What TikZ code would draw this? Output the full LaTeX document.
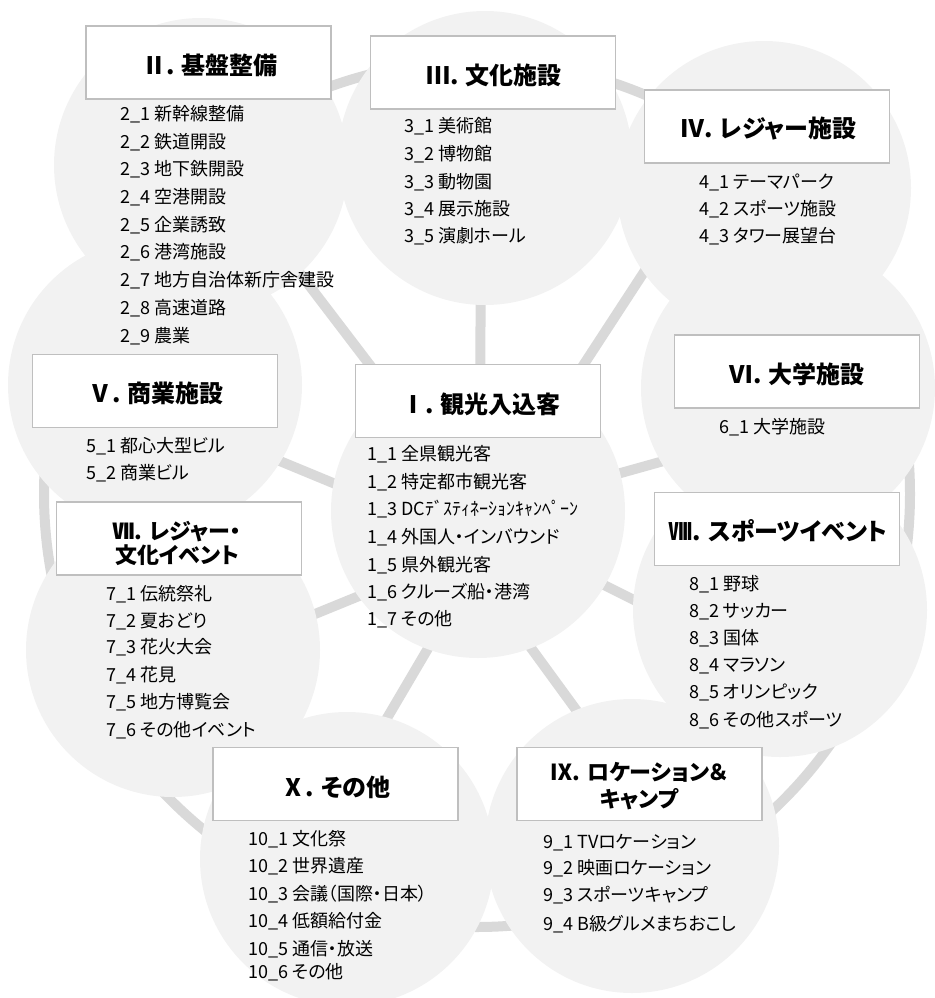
\documentclass[tikz,border=0pt]{standalone}
\usepackage{fontspec}
\newfontfamily\jp[RawFeature=+palt]{Noto Sans CJK JP}
\IfFontExistsTF{Noto Sans CJK JP Black}{\newfontfamily\jpb[RawFeature=+palt]{Noto Sans CJK JP Black}}{%
  \IfFontExistsTF{Noto Sans CJK JP Bold}{\newfontfamily\jpb[RawFeature=+palt]{Noto Sans CJK JP Bold}}{\newfontfamily\jpb[FakeBold=2,RawFeature=+palt]{Noto Sans CJK JP}}}
\definecolor{circ}{HTML}{F2F2F2}
\definecolor{ringc}{HTML}{D9D9D9}
\definecolor{boxc}{HTML}{BFBFBF}
\tikzset{
  bubble/.style={circle, fill=circ, draw=none, minimum size=294pt, inner sep=0pt},
  tbox/.style={draw=boxc, line width=1.2pt, fill=white, inner sep=0pt, minimum width=245pt, minimum height=73pt},
  ttl/.style={inner sep=0pt, align=center, font=\jpb\fontsize{24}{26}\selectfont},
  ttltwo/.style={ttl, font=\jpb\fontsize{22}{24}\selectfont},
  item/.style={font=\jp\fontsize{18}{20}\selectfont, anchor=west, inner sep=0pt, text height=13.5pt, text depth=3pt},
  link/.style={draw=ringc, line width=10pt},
}
\begin{document}
\begin{tikzpicture}[x=1pt,y=-1pt]
\useasboundingbox (0,0) rectangle (934,998);
% ring
\coordinate (hub) at (477,494);
\draw[link] (hub) circle[radius=433pt];
% spokes
\coordinate (s2a) at (450,470); \coordinate (s2b) at (244,200);
\coordinate (s3a) at (480,450); \coordinate (s3b) at (481,200);
\coordinate (s4a) at (528,450); \coordinate (s4b) at (691,200);
\coordinate (s5a) at (420,519); \coordinate (s5b) at (200,428);
\coordinate (s6a) at (560,490); \coordinate (s6b) at (760,434);
\coordinate (s7a) at (430,567); \coordinate (s7b) at (200,661);
\coordinate (s8a) at (540,553); \coordinate (s8b) at (720,643);
\coordinate (s9a) at (480,578); \coordinate (s9b) at (620,770);
\coordinate (s10a) at (470,577); \coordinate (s10b) at (350,781);
\foreach \k in {2,...,10} \draw[link] (s\k a) -- (s\k b);
% circles
\node[bubble] (cII) at (201,165) {};
\node[bubble] (cIII) at (485,158) {};
\node[bubble] (cIV) at (764,188) {};
\node[bubble] (cVI) at (788,388) {};
\node[bubble] (cVIII) at (780,610) {};
\node[bubble] (cIX) at (632,846) {};
\node[bubble] (cX) at (347,859) {};
\node[bubble] (cVII) at (173,650) {};
\node[bubble] (cV) at (155,385) {};
\node[bubble] (cI) at (478,511) {};
% title boxes
\node[tbox] (bII) at (208.5,62.5) {};
\node[tbox] (bIII) at (493,72.5) {};
\node[tbox] (bIV) at (767,126.5) {};
\node[tbox] (bV) at (155,391) {};
\node[tbox] (bI) at (478,401) {};
\node[tbox] (bVI) at (797,371.5) {};
\node[tbox] (bVII) at (179,538.5) {};
\node[tbox] (bVIII) at (777,529) {};
\node[tbox] (bX) at (335.5,784) {};
\node[tbox] (bIX) at (639.5,784) {};
% titles
\node[ttl] (tII) at (210,65) {Ⅱ. 基盤整備};
\node[ttl] (tIII) at (494,75) {Ⅲ. 文化施設};
\node[ttl] (tIV) at (768,129) {Ⅳ. レジャー施設};
\node[ttl] (tV) at (156,393) {Ⅴ. 商業施設};
\node[ttl] (tI) at (481,404) {Ⅰ. 観光入込客};
\node[ttl] (tVI) at (797,374) {Ⅵ. 大学施設};
\node[ttltwo] (tVII) at (177,543) {Ⅶ. レジャー・\\文化イベント};
\node[ttl] (tVIII) at (778,531) {Ⅷ. スポーツイベント};
\node[ttl] (tX) at (336,787) {Ⅹ. その他};
\node[ttltwo, font=\jpb\fontsize{22}{27}\selectfont] (tIX) at (639,786) {Ⅸ. ロケーション＆\\キャンプ};
% items
\foreach \yy/\t [count=\i] in {115/2\_1 新幹線整備, 143/2\_2 鉄道開設, 170/2\_3 地下鉄開設, 198/2\_4 空港開設, 226/2\_5 企業誘致, 253/2\_6 港湾施設, 281/2\_7 地方自治体新庁舎建設, 309/2\_8 高速道路, 337/2\_9 農業}
  \node[item] (iII-\i) at (120,\yy) {\t};
\foreach \yy/\t [count=\i] in {127/3\_1 美術館, 155/3\_2 博物館, 183/3\_3 動物園, 210/3\_4 展示施設, 237/3\_5 演劇ホール}
  \node[item] (iIII-\i) at (404,\yy) {\t};
\foreach \yy/\t [count=\i] in {183/4\_1 テーマパーク, 210/4\_2 スポーツ施設, 237/4\_3 タワー展望台}
  \node[item] (iIV-\i) at (699,\yy) {\t};
\foreach \yy/\t [count=\i] in {447/5\_1 都心大型ビル, 474/5\_2 商業ビル}
  \node[item] (iV-\i) at (86,\yy) {\t};
\foreach \yy/\t [count=\i] in {455/1\_1 全県観光客, 483/1\_2 特定都市観光客, 510/1\_3 DCﾃﾞｽﾃｨﾈｰｼｮﾝｷｬﾝﾍﾟｰﾝ, 538/1\_4 外国人・インバウンド, 566/1\_5 県外観光客, 593/1\_6 クルーズ船・港湾, 620/1\_7 その他}
  \node[item] (iI-\i) at (367,\yy) {\t};
\node[item] (iVI-1) at (719,428) {6\_1 大学施設};
\foreach \yy/\t [count=\i] in {595/7\_1 伝統祭礼, 622/7\_2 夏おどり, 648/7\_3 花火大会, 676/7\_4 花見, 703/7\_5 地方博覧会, 731/7\_6 その他イベント}
  \node[item] (iVII-\i) at (106,\yy) {\t};
\foreach \yy/\t [count=\i] in {585/8\_1 野球, 612/8\_2 サッカー, 639/8\_3 国体, 666/8\_4 マラソン, 693/8\_5 オリンピック, 721/8\_6 その他スポーツ}
  \node[item] (iVIII-\i) at (689,\yy) {\t};
\foreach \yy/\t [count=\i] in {843/9\_1 TVロケーション, 869/9\_2 映画ロケーション, 896/9\_3 スポーツキャンプ, 925/9\_4 B級グルメまちおこし}
  \node[item] (iIX-\i) at (543,\yy) {\t};
\foreach \yy/\t [count=\i] in {840/10\_1 文化祭, 867/10\_2 世界遺産, 895/10\_3 会議（国際・日本）, 922/10\_4 低額給付金, 950/10\_5 通信・放送, 973/10\_6 その他}
  \node[item] (iX-\i) at (248,\yy) {\t};
\end{tikzpicture}
\end{document}
